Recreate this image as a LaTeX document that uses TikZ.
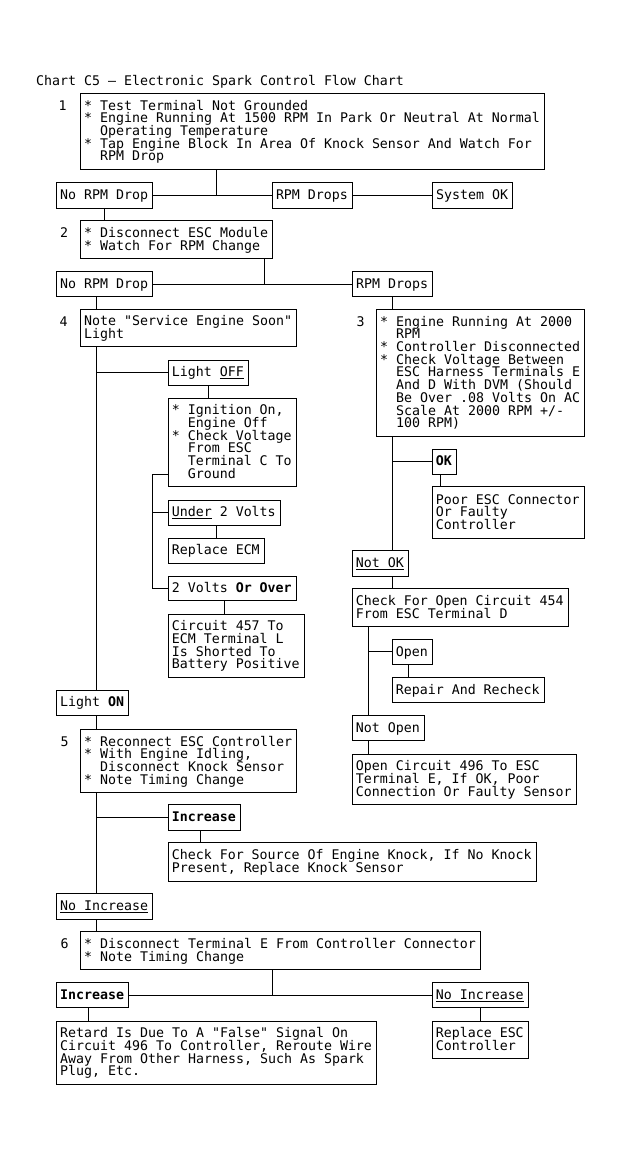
\documentclass[tikz,border=0pt]{standalone}
\usepackage{fontspec}
\newfontfamily\monofnt{DejaVu Sans Mono}[Ligatures=TeXOff]
\newcommand\boxfont{\monofnt\fontsize{13.28}{12.7}\selectfont\lineskiplimit=-20pt\relax}
\newcommand\bstrut{\rule[-3pt]{0pt}{14.5pt}}
\newcommand\ind{\hspace*{1.204em}}
\newcommand\myul[1]{\leavevmode\setbox0=\hbox{#1}\rlap{\rule[-2.3pt]{\wd0}{0.9pt}}\box0\relax}
\newcommand\fixspace{\spaceskip=0.60205em\relax\xspaceskip=0.60205em\relax}
\tikzset{
  bx/.style={draw, line width=1pt, anchor=north west, inner xsep=3.5pt, inner ysep=0pt,
    outer sep=0pt, align=left, font=\boxfont,
    execute at begin node={\fixspace\bstrut}, execute at end node=\bstrut},
  lbl/.style={anchor=base, inner sep=0pt, font=\boxfont},
  conn/.style={line width=1pt}
}
\newcommand\mybox[6]{\node[bx, text width={#4-7}, minimum height={#5}] (#1) at (#2,#3) {#6};}
\begin{document}
\begin{tikzpicture}[x=1pt,y=-1pt]
\fill[white] (0,0) rectangle (623,1160);
\useasboundingbox (0,0) rectangle (623,1160);

\node[anchor=base west, inner sep=0pt, font=\boxfont] (title) at (36,85) {Chart C5 – Electronic Spark Control Flow Chart};

% step labels
\node[lbl] (n1) at (62.5,110) {1};
\node[lbl] (n2) at (64,237.4) {2};
\node[lbl] (n4) at (63.5,326) {4};
\node[lbl] (n3) at (360.5,326) {3};
\node[lbl] (n5) at (64.5,746) {5};
\node[lbl] (n6) at (64.5,948.4) {6};

% boxes
\mybox{b1}{80.7}{93.3}{464}{75.7}{* Test Terminal Not Grounded\\{}* Engine Running At 1500 RPM In Park Or Neutral At Normal\\\ind Operating Temperature\\{}* Tap Engine Block In Area Of Knock Sensor And Watch For\\\ind RPM Drop}
\mybox{b1no}{56.7}{182.7}{96}{25.3}{No RPM Drop}
\mybox{b1yes}{272.5}{182.7}{80}{25.3}{RPM Drops}
\mybox{b1ok}{432.7}{182.7}{80}{25.3}{System OK}
\mybox{b2}{80.7}{220.7}{192}{37.7}{* Disconnect ESC Module\\{}* Watch For RPM Change}
\mybox{b2no}{56.7}{271.7}{96}{24.8}{No RPM Drop}
\mybox{b2yes}{352.7}{271.7}{80}{24.8}{RPM Drops}
\mybox{b4}{80.7}{309.3}{216}{37.4}{Note "Service Engine Soon"\\Light}
\mybox{b3}{376.7}{309.3}{208}{126.7}{* Engine Running At 2000\\\ind RPM\\{}* Controller Disconnected\\{}* Check Voltage Between\\\ind ESC Harness Terminals E\\\ind And D With DVM (Should\\\ind Be Over .08 Volts On AC\\\ind Scale At 2000 RPM +/-\\\ind 100 RPM)}
\mybox{lightoff}{168.3}{360}{80}{25}{Light \myul{OFF}}
\mybox{ign}{168.3}{398}{128}{88.7}{* Ignition On,\\\ind Engine Off\\{}* Check Voltage\\\ind From ESC\\\ind Terminal C To\\\ind Ground}
\mybox{under}{168.3}{500}{112}{25}{\myul{Under} 2 Volts}
\mybox{replecm}{168.3}{538}{96}{25}{Replace ECM}
\mybox{over}{168.3}{576}{128}{24.7}{2 Volts \textbf{Or Over}}
\mybox{c457}{168.3}{614}{136}{63}{Circuit 457 To\\ECM Terminal L\\Is Shorted To\\Battery Positive}
\mybox{ok}{432.3}{449}{24}{25.3}{\textbf{OK}}
\mybox{poor}{432.3}{486.7}{152}{51.6}{Poor ESC Connector\\Or Faulty\\Controller}
\mybox{notok}{352.3}{550}{56}{26}{\myul{Not OK}}
\mybox{check454}{352.3}{588.3}{216}{38.4}{Check For Open Circuit 454\\From ESC Terminal D}
\mybox{open}{392.3}{639.3}{40}{25}{Open}
\mybox{repair}{392.3}{677.3}{152}{25.4}{Repair And Recheck}
\mybox{notopen}{352.3}{715}{72}{25.7}{Not Open}
\mybox{c496}{352.3}{754.3}{224}{49.7}{Open Circuit 496 To ESC\\Terminal E, If OK, Poor\\Connection Or Faulty Sensor}
\mybox{lighton}{56.7}{690}{72}{25}{Light \textbf{ON}}
\mybox{b5}{80.7}{729.3}{216}{63}{* Reconnect ESC Controller\\{}* With Engine Idling,\\\ind Disconnect Knock Sensor\\{}* Note Timing Change}
\mybox{inc5}{168.3}{804.3}{72}{25.7}{\textbf{Increase}}
\mybox{knock}{168.3}{842.7}{368}{38.3}{Check For Source Of Engine Knock, If No Knock\\Present, Replace Knock Sensor}
\mybox{noinc5}{56.7}{893.3}{96}{26}{\myul{No Increase}}
\mybox{b6}{80.7}{931.7}{400}{37.6}{* Disconnect Terminal E From Controller Connector\\{}* Note Timing Change}
\mybox{inc6}{56.7}{982.7}{72}{24.6}{\textbf{Increase}}
\mybox{noinc6}{432.3}{982.7}{96}{24.6}{\myul{No Increase}}
\mybox{retard}{56.7}{1021}{320}{63}{Retard Is Due To A "False" Signal On\\Circuit 496 To Controller, Reroute Wire\\Away From Other Harness, Such As Spark\\Plug, Etc.}
\mybox{replesc}{432.3}{1021}{96}{37.3}{Replace ESC\\Controller}

% helper coordinates
\coordinate (T) at (96.7,0);
\coordinate (T3) at (392.5,0);
\coordinate (T6) at (368.3,0);
\coordinate (j1) at (216,195.3);
\coordinate (j2) at (264.7,284.1);
\coordinate (S) at (152.7,474);
\coordinate (j6) at (272.3,995);
\coordinate (ov) at (224.3,0);
\coordinate (okx) at (440,0);
\coordinate (opx) at (408.3,0);
\coordinate (i5x) at (200.7,0);
\coordinate (i6x) at (88.3,0);

% connectors
\draw[conn] (j1 |- b1.south) -- (j1);
\draw[conn] (b1no.east) -- (b1yes.west);
\draw[conn] (b1yes.east) -- (b1ok.west);
\draw[conn] (b1no.south) -- (b1no.south |- b2.north);
\draw[conn] (j2 |- b2.south) -- (j2);
\draw[conn] (b2no.east) -- (b2yes.west);
\draw[conn] (T |- b2no.south) -- (T |- b4.north);
\draw[conn] (b2yes.south) -- (b2yes.south |- b3.north);
\draw[conn] (T |- b4.south) -- (T |- lighton.north);
\draw[conn] (T |- lightoff.west) -- (lightoff.west);
\draw[conn] (lightoff.south) -- (lightoff.south |- ign.north);
\draw[conn] (ign.west |- S) -- (S) -- (S |- over.west) -- (over.west);
\draw[conn] (S |- under.west) -- (under.west);
\draw[conn] (replecm.north |- under.south) -- (replecm.north);
\draw[conn] (ov |- over.south) -- (ov |- c457.north);
\draw[conn] (T3 |- b3.south) -- (T3 |- notok.north);
\draw[conn] (T3 |- ok.west) -- (ok.west);
\draw[conn] (okx |- ok.south) -- (okx |- poor.north);
\draw[conn] (T3 |- notok.south) -- (T3 |- check454.north);
\draw[conn] (T6 |- check454.south) -- (T6 |- notopen.north);
\draw[conn] (T6 |- open.west) -- (open.west);
\draw[conn] (opx |- open.south) -- (opx |- repair.north);
\draw[conn] (T6 |- notopen.south) -- (T6 |- c496.north);
\draw[conn] (T |- lighton.south) -- (T |- b5.north);
\draw[conn] (T |- b5.south) -- (T |- noinc5.north);
\draw[conn] (T |- inc5.west) -- (inc5.west);
\draw[conn] (i5x |- inc5.south) -- (i5x |- knock.north);
\draw[conn] (T |- noinc5.south) -- (T |- b6.north);
\draw[conn] (j6 |- b6.south) -- (j6);
\draw[conn] (inc6.east) -- (noinc6.west);
\draw[conn] (i6x |- inc6.south) -- (i6x |- retard.north);
\draw[conn] (noinc6.south) -- (noinc6.south |- replesc.north);
\end{tikzpicture}
\end{document}
